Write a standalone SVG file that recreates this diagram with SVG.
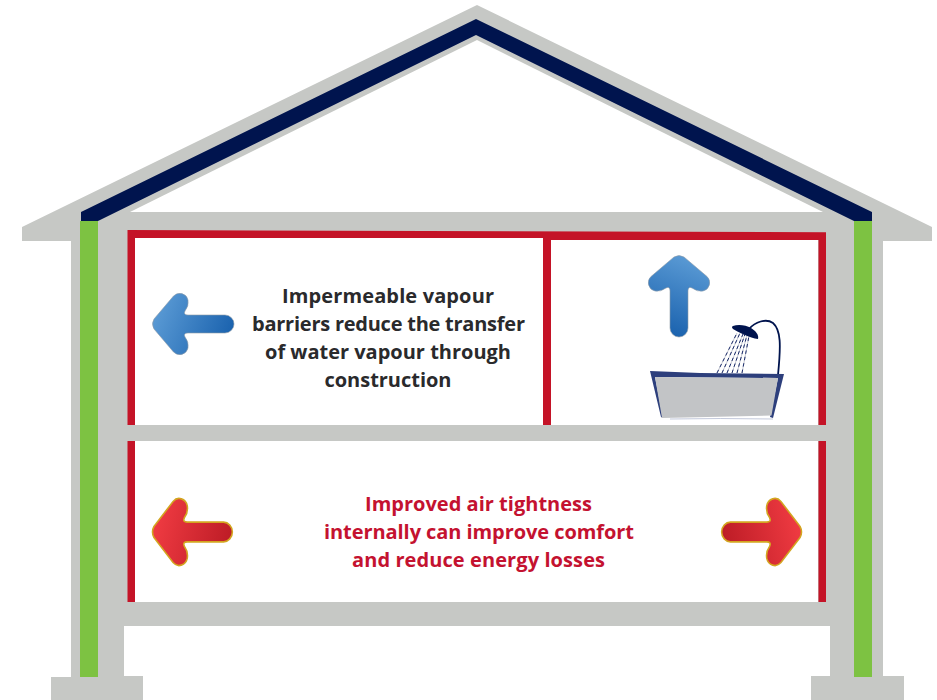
<svg xmlns="http://www.w3.org/2000/svg" width="937" height="700" viewBox="0 0 937 700">
<style>
.g{fill:#c6c8c5}.n{fill:#00144e}.l{fill:#7dc242}.r{fill:#c41327}
text{font-family:"Open Sans","Liberation Sans",sans-serif;font-weight:700;font-size:20px;text-anchor:middle}
.d{fill:#2a2a2c}.e{fill:#c41230}
.bl{stroke:#8f9aa6;stroke-width:.6}
.rd{stroke:#d3a520;stroke-width:1.6}
.wg{fill:none;stroke:#a9adbb;stroke-width:.7}
.dr{fill:none;stroke:#1b2c6b;stroke-width:1;stroke-dasharray:3.500 3}
</style>
<defs>
<path id="arrow" d="M73 -9H36Q31 -9 33 -13Q37 -18 36 -24A8.5 8.500 0 0 0 21.500 -28L2 -5Q-1 0 2 5L21.500 28A8.500 8.500 0 0 0 36 24Q37 18 33 13Q31 9 36 9H73A9 9 0 0 0 73 -9Z"/>
<path id="water" d="M717 373L737 333M722 373L740 333M727 373L743 334M732 373L745 334M737 373L747 335M742 373L749 336"/>
<linearGradient id="bg" gradientUnits="userSpaceOnUse" x1="5" y1="-20" x2="80" y2="10"><stop offset="0" stop-color="#5b9bd5"/><stop offset="1" stop-color="#1a62ae"/></linearGradient>
<linearGradient id="rg" gradientUnits="userSpaceOnUse" x1="5" y1="-10" x2="80" y2="10"><stop offset="0" stop-color="#ee3a41"/><stop offset="1" stop-color="#bd1c26"/></linearGradient>
</defs>
<g id="house-shell">
<path class="g" d="M477 5L932 227V241H883V676H904V700H811V676H830V626H124V676H143V700H51V677H71V241H22V227Z"/>
<path fill="#fff" d="M477 40L823 212H130Z"/>
<path fill="#fff" d="M135 238H543V425H135ZM551 240H818V425H551ZM135 441H818V602H135Z"/>
</g>
<g id="roof-membrane"><path class="n" d="M476 19L872 212V221H854L476 35L98 221H81V212Z"/></g>
<g id="insulation"><rect class="l" x="80" y="221" width="18" height="456"/><rect class="l" x="854" y="221" width="18" height="456"/></g>
<g id="vapour-barrier">
<path class="r" d="M127.500 230L826 232.300V425H818.500V240H551V425H543V238H135V425H127.500Z"/>
<path class="r" d="M127.500 441H135V602H127.500ZM818.500 441H826V602H818.500Z"/>
</g>
<g id="arrow-vapour-left"><use href="#arrow" class="bl" fill="url(#bg)" transform="translate(152 324)"/></g>
<g id="arrow-vapour-up"><use href="#arrow" class="bl" fill="url(#bg)" transform="translate(679 255) rotate(90)"/></g>
<g id="arrow-air-left"><use href="#arrow" class="rd" fill="url(#rg)" transform="translate(152 532) scale(.98 1.09)"/></g>
<g id="arrow-air-right"><use href="#arrow" class="rd" fill="url(#rg)" transform="translate(802 532) scale(-.98 1.09)"/></g>
<g id="bath">
<use href="#water" class="wg"/>
<use href="#water" class="dr"/>
<path fill="none" stroke="#00144e" stroke-width="1.800" d="M749 329C755 322 766 318 773 323C781 330 781 345 778 375"/>
<path class="n" d="M733 326C738 324 746 325 751 328C756 331 759 335 758 339C750 338 738 332 733 329Q731 327 733 326Z"/>
<path fill="#2d3f7c" d="M650 371L700 373L784 374L773 418L770 417L778 378L655 377L663 418L661 417Z"/>
<path fill="#c2c4c6" d="M655 377L778 378L771.500 415.500L662 418Z"/>
<path fill="none" stroke="#b4bbd2" stroke-width=".8" d="M670 419Q720 418 773 419"/>
</g>
<g id="label-vapour">
<text class="d" x="388" y="303" textLength="212">Impermeable vapour</text>
<text class="d" x="388.500" y="331" textLength="273">barriers reduce the transfer</text>
<text class="d" x="388" y="359" textLength="246">of water vapour through</text>
<text class="d" x="388" y="387" textLength="127">construction</text>
</g>
<g id="label-air">
<text class="e" x="478.500" y="511" textLength="227">Improved air tightness</text>
<text class="e" x="479" y="539" textLength="310">internally can improve comfort</text>
<text class="e" x="478.500" y="567" textLength="253">and reduce energy losses</text>
</g>
</svg>
